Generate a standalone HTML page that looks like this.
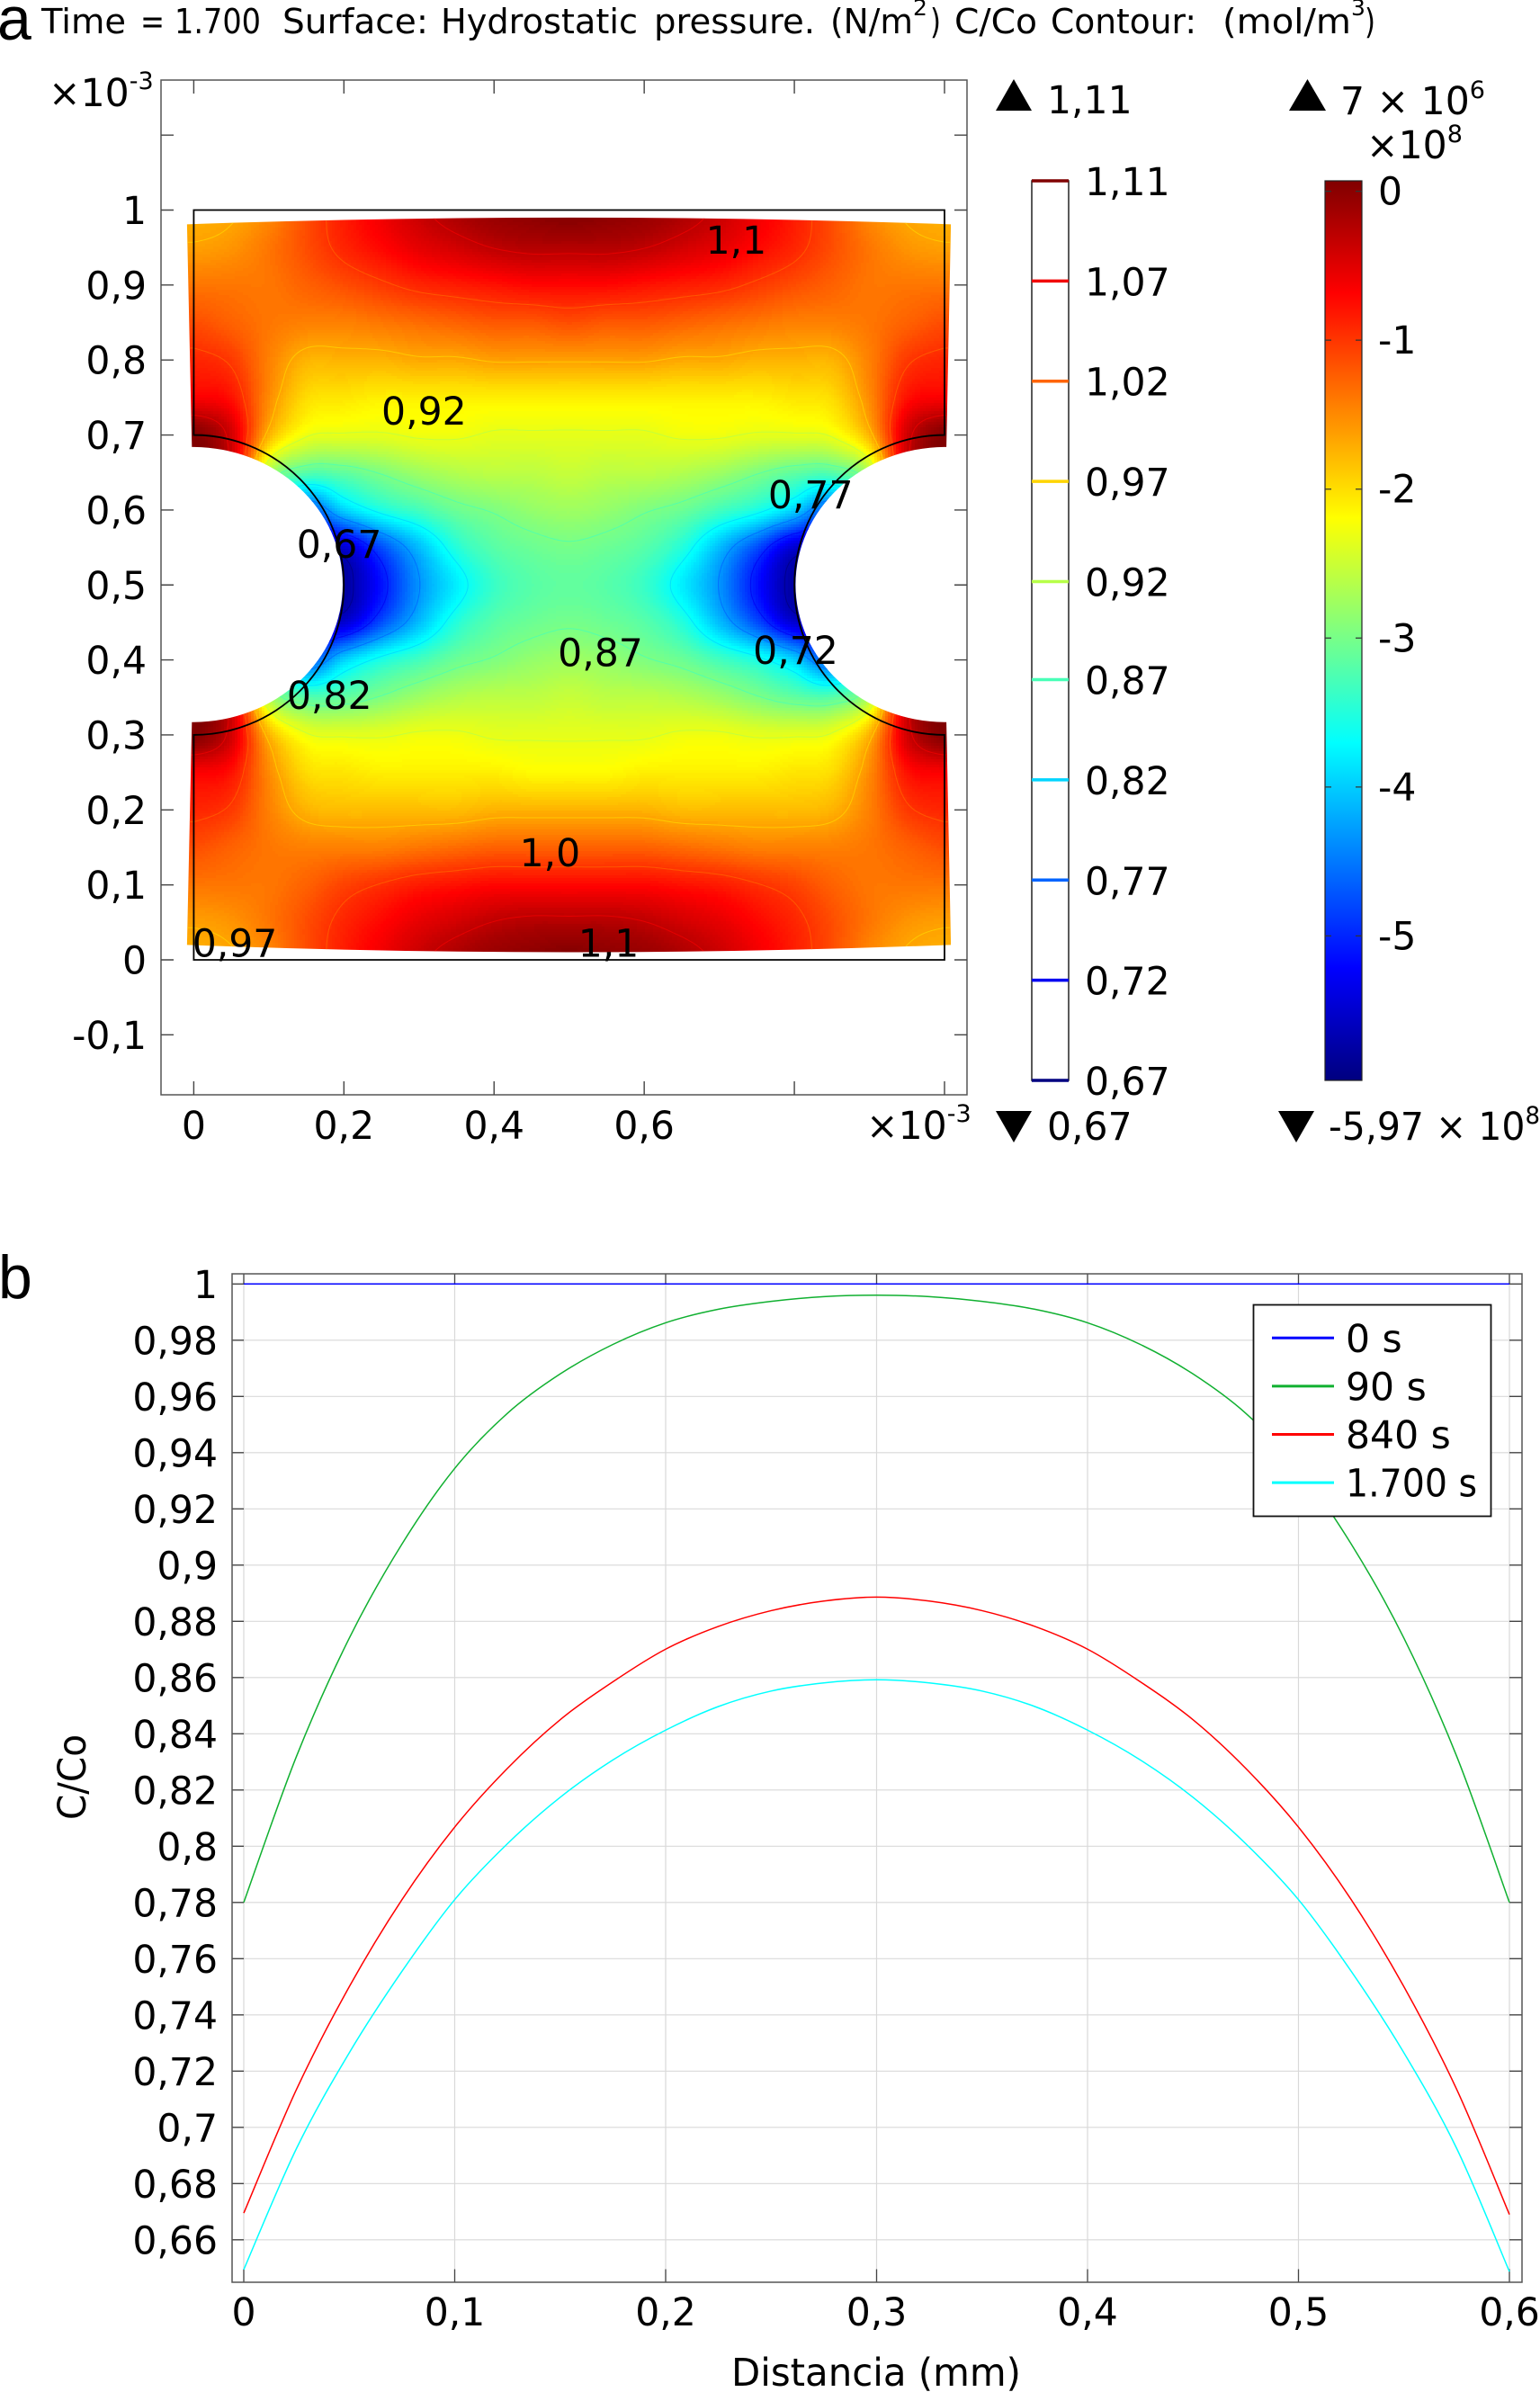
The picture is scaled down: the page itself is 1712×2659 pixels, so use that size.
<!DOCTYPE html>
<html lang="es">
<head>
<meta charset="utf-8">
<title>Hydrostatic pressure surface and C/Co profiles</title>
<style>
html,body{margin:0;padding:0;background:#fff}
svg{display:block}
text{font-family:"DejaVu Sans","Liberation Sans",sans-serif;fill:#000}
.t41{font-size:42.5px}
.t36{font-size:38px}
.sup{font-size:25px}
.panel{font-family:"Liberation Sans",Arial,sans-serif;font-size:68px}
</style>
</head>
<body>
<svg id="root" xmlns="http://www.w3.org/2000/svg" width="1712" height="2659" viewBox="0 0 1712 2659">
  <rect width="1712" height="2659" fill="#fff"/>

  <text class="panel" x="-3" y="44">a</text>
  <g>
    <text class="t36" x="46" y="37" textLength="94" lengthAdjust="spacingAndGlyphs">Time</text>
    <text class="t36" x="156" y="37" textLength="27" lengthAdjust="spacingAndGlyphs">=</text>
    <text class="t36" x="194" y="37" textLength="96" lengthAdjust="spacingAndGlyphs">1.700</text>
    <text class="t36" x="314" y="37" textLength="162" lengthAdjust="spacingAndGlyphs">Surface:</text>
    <text class="t36" x="490" y="37" textLength="219" lengthAdjust="spacingAndGlyphs">Hydrostatic</text>
    <text class="t36" x="727" y="37" textLength="179" lengthAdjust="spacingAndGlyphs">pressure.</text>
    <text class="t36" x="923" y="37" textLength="92" lengthAdjust="spacingAndGlyphs">(N/m</text>
    <text class="sup" x="1015" y="17">2</text>
    <text class="t36" x="1034" y="37" textLength="12" lengthAdjust="spacingAndGlyphs">)</text>
    <text class="t36" x="1061" y="37" textLength="92" lengthAdjust="spacingAndGlyphs">C/Co</text>
    <text class="t36" x="1168" y="37" textLength="162" lengthAdjust="spacingAndGlyphs">Contour:</text>
    <text class="t36" x="1359" y="37" textLength="143" lengthAdjust="spacingAndGlyphs">(mol/m</text>
    <text class="sup" x="1502" y="17">3</text>
    <text class="t36" x="1517" y="37" textLength="12" lengthAdjust="spacingAndGlyphs">)</text>
  </g>

  <g id="fieldPlot"></g>
  <g id="contourLegend"></g>
  <g id="colorLegend"></g>

  <text class="panel" x="-2" y="1443">b</text>
  <g id="linePlot"></g>
</svg>

<script>
// ---- Panel a: surface values, percent of the colour scale. Rows run Y = 1.00 down to 0.00, columns X = 0 to 1 (x10^-3 m), step 0.05.
const surfacePercent = [
 [ 70, 71, 74, 80, 85, 89, 93, 96, 98, 99,100, 99, 98, 96, 93, 89, 85, 80, 74, 71, 70],
 [ 72, 73, 76, 80, 84, 87, 90, 92, 94, 95, 95, 95, 94, 92, 90, 87, 84, 80, 76, 73, 72],
 [ 76, 76, 76, 78, 80, 82, 84, 85, 86, 87, 87, 87, 86, 85, 84, 82, 80, 78, 76, 76, 76],
 [ 80, 78, 76, 75, 75, 76, 77, 78, 79, 79, 80, 79, 79, 78, 77, 76, 75, 75, 76, 78, 80],
 [ 84, 82, 75, 70, 70, 70, 71, 71, 72, 72, 72, 72, 72, 71, 71, 70, 70, 70, 75, 82, 84],
 [ 88, 86, 74, 66, 65, 64, 64, 64, 64, 64, 64, 64, 64, 64, 64, 64, 65, 66, 74, 86, 88],
 [100, 92, 70, 61, 60, 60, 61, 61, 60, 60, 60, 60, 60, 61, 61, 60, 60, 61, 70, 92,100],
 [ 98, 90, 55, 46, 47, 50, 53, 55, 56, 56, 57, 56, 56, 55, 53, 50, 47, 46, 55, 90, 98],
 [ 90, 70, 40, 22, 33, 40, 44, 48, 50, 52, 53, 52, 50, 48, 44, 40, 33, 22, 40, 70, 90],
 [ 50, 40, 20,  8,  8, 20, 31, 41, 46, 48, 49, 48, 46, 41, 31, 20,  8,  8, 20, 40, 50],
 [ 20, 10,  5,  3,  3, 14, 27, 36, 43, 46, 47, 46, 43, 36, 27, 14,  3,  3,  5, 10, 20],
 [ 50, 40, 20,  8,  8, 20, 31, 41, 46, 48, 49, 48, 46, 41, 31, 20,  8,  8, 20, 40, 50],
 [ 90, 70, 40, 22, 33, 40, 44, 48, 50, 52, 53, 52, 50, 48, 44, 40, 33, 22, 40, 70, 90],
 [ 98, 90, 55, 46, 47, 50, 53, 55, 56, 56, 57, 56, 56, 55, 53, 50, 47, 46, 55, 90, 98],
 [100, 92, 70, 61, 60, 60, 61, 61, 60, 60, 60, 60, 60, 61, 61, 60, 60, 61, 70, 92,100],
 [ 88, 86, 74, 66, 65, 64, 64, 64, 64, 63, 63, 63, 64, 64, 64, 64, 65, 66, 74, 86, 88],
 [ 84, 82, 75, 70, 69, 69, 69, 69, 70, 70, 70, 70, 70, 69, 69, 69, 69, 70, 75, 82, 84],
 [ 80, 78, 76, 75, 75, 75, 76, 77, 78, 78, 78, 78, 78, 77, 76, 75, 75, 75, 76, 78, 80],
 [ 76, 76, 76, 78, 81, 83, 85, 86, 87, 87, 87, 87, 87, 86, 85, 83, 81, 78, 76, 76, 76],
 [ 72, 73, 76, 80, 84, 87, 90, 92, 94, 95, 95, 95, 94, 92, 90, 87, 84, 80, 76, 73, 72],
 [ 70, 71, 74, 80, 85, 89, 93, 96, 98, 99,100, 99, 98, 96, 93, 89, 85, 80, 74, 71, 70]
];
const fieldXTicks = [0,0.2,0.4,0.6,0.8,1];
const fieldXLabels = ["0","0,2","0,4","0,6"];
const fieldYTicks = [-0.1,0,0.1,0.2,0.3,0.4,0.5,0.6,0.7,0.8,0.9,1,1.1];
const fieldYLabels = ["-0,1","0","0,1","0,2","0,3","0,4","0,5","0,6","0,7","0,8","0,9","1"];
const contourLevels = [0.67,0.719,0.768,0.817,0.866,0.914,0.963,1.012,1.061,1.11];
const contourLabels = ["0,67","0,72","0,77","0,82","0,87","0,92","0,97","1,02","1,07","1,11"];
const contourSurfaceOffset = 5; // contour of a level sits this many percent above its own colour on the surface
const pressureTicks = [0,-1,-2,-3,-4,-5];
const pressureTickLabels = ["0","-1","-2","-3","-4","-5"];
const pressureMin = -5.97, pressureMax = 0.07;
const inlineContourText = ["1,1","0,92","0,77","0,67","0,87","0,72","0,82","1,0","1,1","0,97"];
const inlineContourX = [0.682,0.25,0.765,0.137,0.485,0.745,0.124,0.434,0.512,-0.002];
const inlineContourY = [0.942,0.714,0.602,0.536,0.392,0.395,0.335,0.125,0.004,0.004];

// ---- Panel b: C/Co profiles along the ligament.
const distanceMm = [0,0.025,0.05,0.075,0.1,0.125,0.15,0.175,0.2,0.225,0.25,0.275,0.3,0.325,0.35,0.375,0.4,0.425,0.45,0.475,0.5,0.525,0.55,0.575,0.6];
const series0s = [1,1,1,1,1,1,1,1,1,1,1,1,1,1,1,1,1,1,1,1,1,1,1,1,1];
const series90s = [0.78,0.832,0.874,0.9075,0.9344,0.954,0.968,0.9785,0.9862,0.991,0.9938,0.9955,0.996,0.9955,0.9938,0.991,0.9862,0.9785,0.968,0.954,0.9344,0.9075,0.874,0.832,0.78];
const series840s = [0.6695,0.7135,0.75,0.781,0.8068,0.8277,0.845,0.8585,0.8701,0.8782,0.8838,0.8872,0.8886,0.8872,0.8838,0.8782,0.8701,0.8585,0.845,0.8277,0.8068,0.781,0.75,0.7135,0.669];
const series1700s = [0.6494,0.6925,0.7265,0.7555,0.781,0.8009,0.8174,0.8307,0.8413,0.8497,0.8552,0.8581,0.8592,0.8581,0.8552,0.8497,0.8413,0.8307,0.8174,0.8009,0.781,0.7555,0.7265,0.6925,0.6487];
const seriesNames = ["0 s","90 s","840 s","1.700 s"];
const seriesColors = ["#0000ff","#10b030","#ff0000","#00ffff"];
const lineXTicks = [0,0.1,0.2,0.3,0.4,0.5,0.6];
const lineYTicks = [1,0.98,0.96,0.94,0.92,0.9,0.88,0.86,0.84,0.82,0.8,0.78,0.76,0.74,0.72,0.7,0.68,0.66];

// ---- Helpers
const NS = "http://www.w3.org/2000/svg";
function add(parent, tag, attrs, text) {
  const el = document.createElementNS(NS, tag);
  for (const k in attrs) el.setAttribute(k, attrs[k]);
  if (text !== undefined) el.textContent = text;
  parent.appendChild(el);
  return el;
}
function clamp01(v) { return Math.max(0, Math.min(1, v)); }
function jet(t) {
  const r = clamp01(1.5 - Math.abs(4 * t - 3));
  const g = clamp01(1.5 - Math.abs(4 * t - 2));
  const b = clamp01(1.5 - Math.abs(4 * t - 1));
  return "rgb(" + Math.round(r * 255) + "," + Math.round(g * 255) + "," + Math.round(b * 255) + ")";
}
function decimal(v) { return String(v).replace(".", ","); }

// ---- Axis functions, panel a
const xA = X => 215.4 + 834.6 * X;
const yA = Y => 1067 - 833.5 * Y;
const pA = (X, Y) => xA(X).toFixed(2) + " " + yA(Y).toFixed(2);

function catmull(a, b, c, d, u) {
  return 0.5 * (2 * b + (c - a) * u + (2 * a - 5 * b + 4 * c - d) * u * u + (3 * b - a - 3 * c + d) * u * u * u);
}
function surfaceAt(X, Y) {
  const rows = surfacePercent.length, cols = surfacePercent[0].length;
  const gx = Math.max(0, Math.min(cols - 1.0001, X * (cols - 1)));
  const gy = Math.max(0, Math.min(rows - 1.0001, (1 - Y) * (rows - 1)));
  const ix = Math.floor(gx), iy = Math.floor(gy), ux = gx - ix, uy = gy - iy;
  const col = c => Math.max(0, Math.min(cols - 1, c));
  const row = r => Math.max(0, Math.min(rows - 1, r));
  const line = r => catmull(surfacePercent[r][col(ix - 1)], surfacePercent[r][ix], surfacePercent[r][col(ix + 1)], surfacePercent[r][col(ix + 2)], ux);
  return catmull(line(row(iy - 1)), line(iy), line(row(iy + 1)), line(row(iy + 2)), uy);
}

// ---- Surface plot
const fieldPlot = document.getElementById("fieldPlot");
const defs = add(fieldPlot, "defs", {});
const clip = add(defs, "clipPath", { id: "deformedShape" });
const holeRx = (0.2 * 834.6).toFixed(2), holeRy = (0.1835 * 833.5).toFixed(2);
add(clip, "path", { d:
  "M" + pA(-0.009, 0.981) + " Q" + pA(0.5, 0.999) + " " + pA(1.0085, 0.981) +
  " L" + pA(1.0025, 0.684) + " L" + pA(1, 0.684) +
  " A" + holeRx + " " + holeRy + " 0 0 0 " + pA(1, 0.317) + " L" + pA(1.0025, 0.317) +
  " L" + pA(1.0085, 0.02) + " Q" + pA(0.5, 0.0005) + " " + pA(-0.009, 0.02) +
  " L" + pA(-0.0025, 0.317) + " L" + pA(0, 0.317) +
  " A" + holeRx + " " + holeRy + " 0 0 0 " + pA(0, 0.684) + " L" + pA(-0.0025, 0.684) + " Z" });

add(fieldPlot, "rect", { x: 179, y: 89, width: 896, height: 1128, fill: "#fff", stroke: "none" });

const surface = add(fieldPlot, "g", { "clip-path": "url(#deformedShape)", "shape-rendering": "crispEdges" });


const CELL = 3, px0 = 204, py0 = 238, nx = 293, ny = 278;
const sampled = [];
const bins = [];
for (let i = 0; i < 256; i++) bins.push([]);
for (let j = 0; j <= ny; j++) {
  const rowVals = [];
  for (let i = 0; i <= nx; i++) {
    const px = px0 + i * CELL, py = py0 + j * CELL;
    const X = (px + CELL / 2 - 215.4) / 834.6, Y = (1067 - py - CELL / 2) / 833.5;
    const v = surfaceAt(X, Y);
    rowVals.push(v);
    bins[Math.round(clamp01(v / 100) * 255)].push("M" + px + " " + py + "h" + CELL + "v" + CELL + "h-" + CELL + "z");
  }
  sampled.push(rowVals);
}
bins.forEach((cells, b) => {
  if (!cells.length) return;
  const band = add(surface, "path", { d: cells.join(""), fill: jet(b / 255) });
  
  
});

// Contours by marching squares over the sampled surface
const contourGroup = add(fieldPlot, "g", { "clip-path": "url(#deformedShape)", fill: "none", "stroke-width": 1, "stroke-opacity": 0.75 });


const levelMin = contourLevels[0], levelMax = contourLevels[contourLevels.length - 1];
const levelT = lv => (lv - levelMin) / (levelMax - levelMin);
contourLevels.forEach(lv => {
  const target = levelT(lv) * 100 + contourSurfaceOffset;
  let d = "";
  for (let j = 0; j < ny; j++) {
    for (let i = 0; i < nx; i++) {
      const a = sampled[j][i], b = sampled[j][i + 1], c = sampled[j + 1][i + 1], e = sampled[j + 1][i];
      const hits = [];
      const cx = px0 + i * CELL + CELL / 2, cy = py0 + j * CELL + CELL / 2;
      if ((a < target) !== (b < target)) hits.push([cx + CELL * (target - a) / (b - a), cy]);
      if ((b < target) !== (c < target)) hits.push([cx + CELL, cy + CELL * (target - b) / (c - b)]);
      if ((e < target) !== (c < target)) hits.push([cx + CELL * (target - e) / (c - e), cy + CELL]);
      if ((a < target) !== (e < target)) hits.push([cx, cy + CELL * (target - a) / (e - a)]);
      for (let h = 0; h + 1 < hits.length; h += 2) {
        d += "M" + hits[h][0].toFixed(1) + " " + hits[h][1].toFixed(1) + "L" + hits[h + 1][0].toFixed(1) + " " + hits[h + 1][1].toFixed(1);
      }
    }
  }
  const contour = add(contourGroup, "path", { d: d, stroke: jet(levelT(lv)) });
  
  
});

// Undeformed geometry outline
const rx = (0.2 * 834.6).toFixed(2), ry = (0.2 * 833.5).toFixed(2);
const outline = add(fieldPlot, "path", {
  d: "M" + pA(0, 1) + " L" + pA(1, 1) + " L" + pA(1, 0.7) + " A" + rx + " " + ry + " 0 0 0 " + pA(1, 0.3) +
     " L" + pA(1, 0) + " L" + pA(0, 0) + " L" + pA(0, 0.3) + " A" + rx + " " + ry + " 0 0 0 " + pA(0, 0.7) + " Z",
  fill: "none", stroke: "#000", "stroke-width": 1.8 });



// Frame, ticks and labels
const frameA = add(fieldPlot, "rect", { x: 179, y: 89, width: 896, height: 1128, fill: "none", stroke: "#555", "stroke-width": 1.5 });


fieldXTicks.forEach((v, i) => {
  const x = xA(v);
  const tick = add(fieldPlot, "path", { d: "M" + x + " 89v15M" + x + " 1217v-15", stroke: "#444", "stroke-width": 1.4, fill: "none" });
  
  
  if (i < fieldXLabels.length) {
    const label = add(fieldPlot, "text", { class: "t41", x: x, y: 1266, "text-anchor": "middle" }, fieldXLabels[i]);
    
    
  }
});
fieldYTicks.forEach((v, i) => {
  const y = yA(v);
  const tick = add(fieldPlot, "path", { d: "M179 " + y + "h14M1075 " + y + "h-14", stroke: "#444", "stroke-width": 1.4, fill: "none" });
  
  
  if (i < fieldYLabels.length) {
    const label = add(fieldPlot, "text", { class: "t41", x: 163, y: y + 15.5, "text-anchor": "end" }, fieldYLabels[i]);
    
    
  }
});
const yExp = add(fieldPlot, "text", { class: "t41", x: 54, y: 118 });


add(yExp, "tspan", {}, "×10");
add(yExp, "tspan", { dy: -19, "font-size": 27 }, "-3");
const xExp = add(fieldPlot, "text", { class: "t41", x: 963, y: 1266 });


add(xExp, "tspan", {}, "×10");
add(xExp, "tspan", { dy: -19, "font-size": 27 }, "-3");

inlineContourText.forEach((txt, i) => {
  const label = add(fieldPlot, "text", { class: "t41", x: xA(inlineContourX[i]), y: yA(inlineContourY[i]) }, txt);
  
  
});

// ---- Legends
const legendY = t => 1201 - 1000 * t;
const contourLegend = document.getElementById("contourLegend");
const clTop = add(contourLegend, "path", { d: "M1107 123L1127 88L1147 123Z", fill: "#000" });


const clMax = add(contourLegend, "text", { class: "t41", x: 1164, y: 126 }, contourLabels[contourLabels.length - 1]);


const clBox = add(contourLegend, "rect", { x: 1147, y: 201, width: 41, height: 1000, fill: "#fff", stroke: "#222", "stroke-width": 1.5 });


contourLevels.forEach((lv, i) => {
  const y = legendY(levelT(lv));
  const swatch = add(contourLegend, "line", { x1: 1147, x2: 1188, y1: y, y2: y, stroke: jet(levelT(lv)), "stroke-width": 3.5 });
  
  
  const label = add(contourLegend, "text", { class: "t41", x: 1206, y: y + 16 }, contourLabels[i]);
  
  
});
const clBot = add(contourLegend, "path", { d: "M1107 1235L1147 1235L1127 1270Z", fill: "#000" });


const clMin = add(contourLegend, "text", { class: "t41", x: 1164, y: 1267 }, contourLabels[0]);



const colorLegend = document.getElementById("colorLegend");
const cDefs = add(colorLegend, "defs", {});
const grad = add(cDefs, "linearGradient", { id: "jetScale", x1: 0, y1: 1, x2: 0, y2: 0 });
for (let i = 0; i <= 32; i++) {
  add(grad, "stop", { offset: (i / 32).toFixed(4), "stop-color": jet(i / 32) });
}
const cBar = add(colorLegend, "rect", { x: 1473, y: 201, width: 41, height: 1000, fill: "url(#jetScale)", stroke: "#222", "stroke-width": 1.2 });


pressureTicks.forEach((p, i) => {
  const y = legendY((p - pressureMin) / (pressureMax - pressureMin));
  const tick = add(colorLegend, "path", { d: "M1473 " + y + "h7M1514 " + y + "h-7", stroke: "#333", "stroke-width": 1.2, fill: "none" });
  
  
  const label = add(colorLegend, "text", { class: "t41", x: 1532, y: y + 15 }, pressureTickLabels[i]);
  
  
});
const cTop = add(colorLegend, "path", { d: "M1433 123L1453.5 88L1474 123Z", fill: "#000" });


const cMax = add(colorLegend, "text", { class: "t41", x: 1490, y: 127 });


add(cMax, "tspan", {}, "7 × 10");
add(cMax, "tspan", { dy: -18, "font-size": 27 }, "6");
const cExp = add(colorLegend, "text", { class: "t41", x: 1519, y: 176 });


add(cExp, "tspan", {}, "×10");
add(cExp, "tspan", { dy: -18, "font-size": 27 }, "8");
const cBot = add(colorLegend, "path", { d: "M1421 1235L1461 1235L1441 1270Z", fill: "#000" });


const cMin = add(colorLegend, "text", { class: "t41", x: 1477, y: 1267, textLength: 235, lengthAdjust: "spacingAndGlyphs" });


add(cMin, "tspan", {}, "-5,97 × 10");
add(cMin, "tspan", { dy: -18, "font-size": 27 }, "8");

// ---- Line chart
const linePlot = document.getElementById("linePlot");
const xB = d => 271 + 2345 * d;
const yB = v => 1427.3 + (1 - v) * 3125;
const L = 258, R = 1692, T = 1416, B = 2537;

lineXTicks.forEach(v => {
  const x = xB(v);
  const grid = add(linePlot, "line", { x1: x, x2: x, y1: T, y2: B, stroke: "#d9d9d9", "stroke-width": 1.2 });
  
  
});
lineYTicks.forEach(v => {
  const y = yB(v);
  const grid = add(linePlot, "line", { x1: L, x2: R, y1: y, y2: y, stroke: "#d9d9d9", "stroke-width": 1.2 });
  
  
});
lineXTicks.forEach(v => {
  const x = xB(v);
  const tick = add(linePlot, "path", { d: "M" + x + " " + T + "v11.5M" + x + " " + B + "v-14.5", stroke: "#444", "stroke-width": 1.3, fill: "none" });
  
  
  const label = add(linePlot, "text", { class: "t41", x: x, y: 2585, "text-anchor": "middle" }, decimal(v));
  
  
});
lineYTicks.forEach(v => {
  const y = yB(v);
  const tick = add(linePlot, "path", { d: "M" + L + " " + y + "h13M" + R + " " + y + "h-14", stroke: "#444", "stroke-width": 1.3, fill: "none" });
  
  
  const label = add(linePlot, "text", { class: "t41", x: 242, y: y + 15.5, "text-anchor": "end" }, decimal(v));
  
  
});
const frameB = add(linePlot, "rect", { x: L, y: T, width: R - L, height: B - T, fill: "none", stroke: "#555", "stroke-width": 1.5 });



// Smooth curve through the read values (Catmull-Rom expressed as cubic Beziers)
function smoothPath(vals) {
  const pts = vals.map((v, i) => [xB(distanceMm[i]), yB(v)]);
  let d = "M" + pts[0][0].toFixed(2) + " " + pts[0][1].toFixed(2);
  for (let i = 0; i < pts.length - 1; i++) {
    const p0 = pts[Math.max(0, i - 1)], p1 = pts[i], p2 = pts[i + 1], p3 = pts[Math.min(pts.length - 1, i + 2)];
    d += "C" + (p1[0] + (p2[0] - p0[0]) / 6).toFixed(2) + " " + (p1[1] + (p2[1] - p0[1]) / 6).toFixed(2) +
         " " + (p2[0] - (p3[0] - p1[0]) / 6).toFixed(2) + " " + (p2[1] - (p3[1] - p1[1]) / 6).toFixed(2) +
         " " + p2[0].toFixed(2) + " " + p2[1].toFixed(2);
  }
  return d;
}
const lineSeries = [series0s, series90s, series840s, series1700s];
lineSeries.forEach((vals, s) => {
  const line = add(linePlot, "path", { d: smoothPath(vals), fill: "none", stroke: seriesColors[s], "stroke-width": 1.5 });
  
  
});

const xTitle = add(linePlot, "text", { class: "t41", x: 813, y: 2652, textLength: 322, lengthAdjust: "spacingAndGlyphs" }, "Distancia (mm)");


const yTitle = add(linePlot, "text", { class: "t41", transform: "translate(95 2023) rotate(-90)", textLength: 95, lengthAdjust: "spacingAndGlyphs" }, "C/Co");



const legend = add(linePlot, "g", {});


const legendBox = add(legend, "rect", { x: 1393.5, y: 1450.5, width: 264, height: 235, fill: "#fff", stroke: "#111", "stroke-width": 1.8 });


seriesNames.forEach((name, s) => {
  const y = 1487.3 + s * 53.6;
  const swatch = add(legend, "line", { x1: 1414, x2: 1483, y1: y, y2: y, stroke: seriesColors[s], "stroke-width": 3 });
  
  
  const label = add(legend, "text", { class: "t41", x: 1496, y: y + 15.5 }, name);
  if (s === 3) {
    label.setAttribute("textLength", 146);
    label.setAttribute("lengthAdjust", "spacingAndGlyphs");
  }
  
  
});
</script>
</body>
</html>
